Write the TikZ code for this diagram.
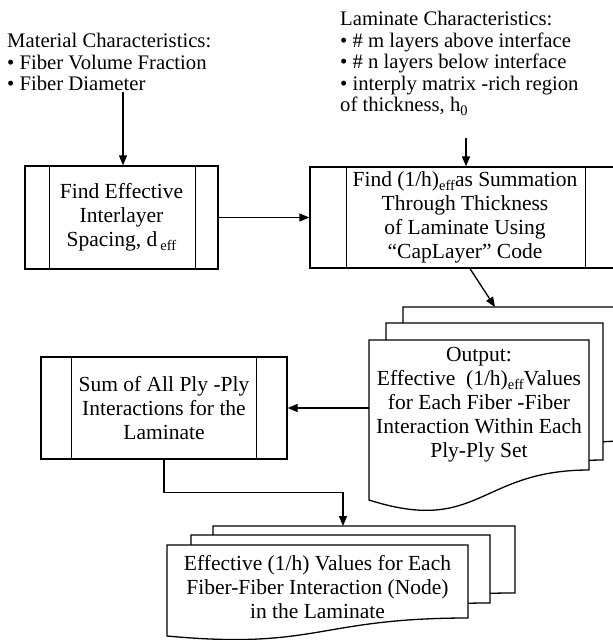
\documentclass[tikz,border=0pt]{standalone}
\usepackage{fontspec}
\setmainfont{Liberation Serif}
\usetikzlibrary{arrows.meta}
\newcommand{\lowsub}[1]{\raisebox{-4pt}{\fontsize{14.5}{14.5}\selectfont #1}}
\newcommand{\drawthin}{\draw[line width=1.3pt]}
% page of a document stack: left, right, top, bottom right, bottom left, wave
\newcommand{\drawpage}[6]{
    \path[pageline] (#1,#3)--(#2,#3)--(#2,#4) .. controls ({(#1+#2)/2},#4) and ({(#1+#2)/2},#6) .. (#1,#5)--cycle;
}
% inner side bars of a predefined process box
\newcommand{\sidebars}[3]{
    \drawthin ([xshift=#2]#1.north west)--([xshift=#2]#1.south west);
    \drawthin ([xshift=-#3]#1.north east)--([xshift=-#3]#1.south east);
}
\tikzset{
    every node/.style={font=\fontsize{21.5}{24}\selectfont},
    procbox/.style={draw, line width=1.3pt, align=center, inner sep=0pt},
    pageline/.style={draw, fill=white, line width=1.3pt},
    pagetext/.style={align=center, inner sep=0pt},
    listtext/.style={anchor=north west, align=left, inner sep=0pt, font=\fontsize{20.7}{21.5}\selectfont},
    arr/.style={line width=1.3pt, -{Triangle[length=10pt,width=8pt]}}
}

\begin{document}
\begin{tikzpicture}[x=1pt,y=-1pt]
\useasboundingbox (0,0) rectangle (613,640);

\node[listtext] (matchar) at (7,33) {Material Characteristics:\\ \textbullet{} Fiber Volume Fraction\\ \textbullet{} Fiber Diameter};
\node[listtext] (lamchar) at (340,11) {Laminate Characteristics:\\ \textbullet{} \# m layers above interface\\ \textbullet{} \# n layers below interface\\ \textbullet{} interply matrix -rich region\\ of thickness, h\lowsub{0}};

\node[procbox, minimum width=193pt, minimum height=103pt] (find) at (121.5,217.5) {Find Effective\\ Interlayer\\ Spacing, d\kern3pt\lowsub{eff}};
\sidebars{find}{25pt}{23pt}
\node[procbox, minimum width=308pt, minimum height=101pt] (capbox) at (464,217.5) {\hspace*{2pt}Find (1/h)\lowsub{eff}as Summation\\ \hspace*{2pt}Through Thickness\\ \hspace*{2pt}of Laminate Using\\ \hspace*{2pt}“CapLayer” Code};
\sidebars{capbox}{37pt}{33pt}
\node[procbox, minimum width=246pt, minimum height=102pt] (sumbox) at (164,408) {Sum of All Ply -Ply\\ Interactions for the\\ Laminate};
\sidebars{sumbox}{31pt}{31pt}

% output stack
\drawpage{403}{625}{307}{441}{466}{500}
\drawpage{386}{603}{323}{460}{485}{520}
\drawpage{369}{589}{340}{470}{500}{535}
\node[pagetext, minimum width=220pt, minimum height=130pt] (output) at (479,405) {Output:\\ Effective\enspace(1/h)\lowsub{eff}Values\\ for Each Fiber -Fiber\\ Interaction Within Each\\ Ply-Ply Set};

% result stack
\drawpage{213}{515}{526}{593}{611}{625}
\drawpage{191}{490}{535}{603}{621}{635}
\drawpage{167}{468}{545}{618}{636}{650}
\node[pagetext, minimum width=301pt, minimum height=73pt] (effvals) at (317.5,587) {Effective (1/h) Values for Each\\ Fiber-Fiber Interaction (Node)\\ in the Laminate};

\coordinate (matfoot) at (123,92);
\coordinate (hfoot) at (466,138);
\coordinate (outtop) at (495,307);
\coordinate (efftop) at (343,526);

\draw[arr] (matfoot)--(matfoot |- find.north);
\draw[arr] (hfoot)--(hfoot |- capbox.north);
\draw[arr] (find.east)--(capbox.west |- find.east);
\draw[arr] ([xshift=6pt]capbox.south)--(outtop);
\draw[arr] (output.west |- sumbox.east)--(sumbox.east);
\draw[arr] (sumbox.south)--++(0,33)-|(efftop);
\end{tikzpicture}
\end{document}
